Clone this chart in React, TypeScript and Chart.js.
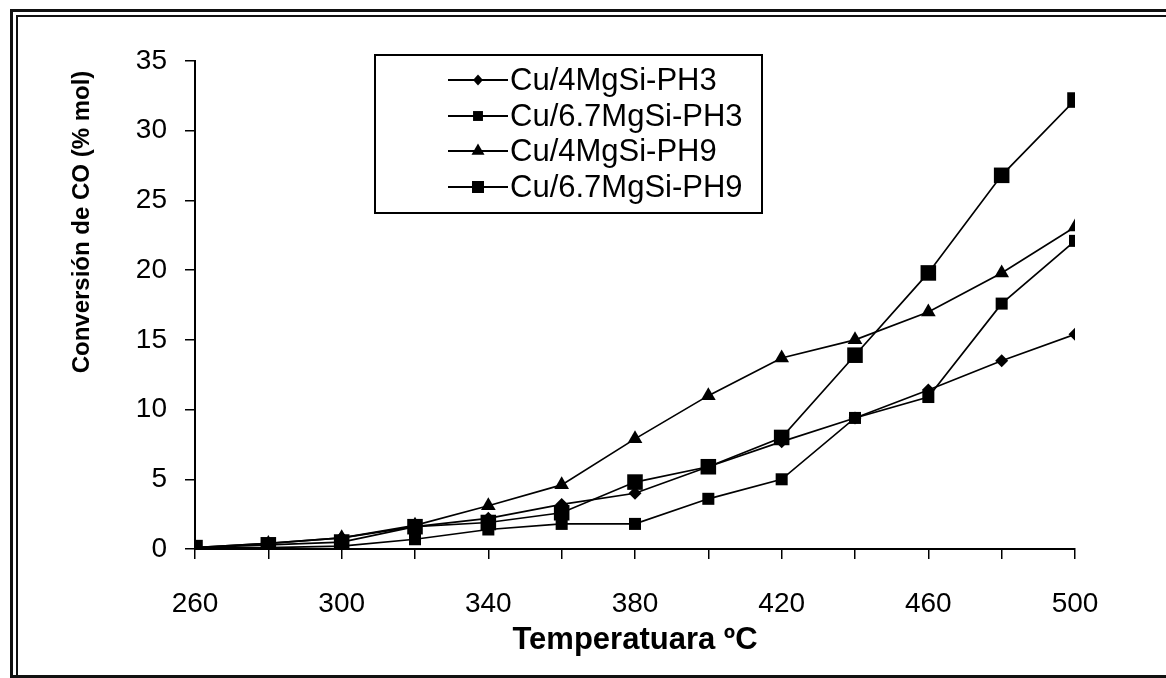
import React, { useEffect, useRef } from "react";
import { Chart, registerables } from "chart.js";

Chart.register(...registerables);

// ---- data ----
const temperatures = [260, 280, 300, 320, 340, 360, 380, 400, 420, 440, 460, 480, 500];
const cu4PH3 = [0.1, 0.4, 0.8, 1.6, 2.2, 3.2, 4.0, 5.9, 7.7, 9.4, 11.4, 13.5, 15.4];
const cu67PH3 = [0.1, 0.1, 0.2, 0.7, 1.4, 1.8, 1.8, 3.6, 5.0, 9.4, 10.9, 17.6, 22.1];
const cu4PH9 = [0.1, 0.4, 0.8, 1.7, 3.1, 4.6, 7.9, 11.0, 13.7, 15.0, 17.0, 19.8, 23.1];
const cu67PH9 = [0.1, 0.3, 0.5, 1.6, 1.9, 2.6, 4.8, 5.9, 8.0, 13.9, 19.8, 26.8, 32.2];
const seriesNames = ["Cu/4MgSi-PH3", "Cu/6.7MgSi-PH3", "Cu/4MgSi-PH9", "Cu/6.7MgSi-PH9"];
const xTitle = "Temperatuara ºC";
const yTitle = "Conversión de CO (% mol)";
const xMin = 260;
const xMax = 500;
const xStep = 20;
const xLabelStep = 40;
const yMin = 0;
const yMax = 35;
const yStep = 5;

const FONT = '"Liberation Sans", Arial, Helvetica, sans-serif';

type Marker = "rectRot" | "rect" | "triangle";
const markerStyles: Marker[] = ["rectRot", "rect", "triangle", "rect"];
const markerRadius = [6.5, 8.5, 8.5, 11];
const legendMarkerRadius = [5.5, 7, 7.5, 8.5];

function drawMarker(ctx: CanvasRenderingContext2D, style: Marker, x: number, y: number, r: number) {
  ctx.beginPath();
  if (style === "rectRot") {
    ctx.moveTo(x, y - r);
    ctx.lineTo(x + r * 0.9, y);
    ctx.lineTo(x, y + r);
    ctx.lineTo(x - r * 0.9, y);
    ctx.closePath();
  } else if (style === "rect") {
    const s = r * Math.SQRT1_2;
    ctx.rect(x - s, y - s, 2 * s, 2 * s);
  } else {
    ctx.moveTo(x, y - r);
    ctx.lineTo(x + r * 0.866, y + r / 2);
    ctx.lineTo(x - r * 0.866, y + r / 2);
    ctx.closePath();
  }
  ctx.fill();
}

const boxedLegend = {
  id: "boxedLegend",
  afterDraw(chart: any) {
    const ctx: CanvasRenderingContext2D = chart.ctx;
    ctx.save();
    // legend frame
    ctx.strokeStyle = "#000";
    ctx.lineWidth = 2;
    ctx.strokeRect(375, 55, 387, 158);
    const rows = [80, 116, 151, 187];
    ctx.font = `31px ${FONT}`;
    ctx.textBaseline = "middle";
    ctx.textAlign = "left";
    ctx.fillStyle = "#000";
    seriesNames.forEach((name, i) => {
      const y = rows[i];
      ctx.beginPath();
      ctx.lineWidth = 2;
      ctx.moveTo(448, y);
      ctx.lineTo(508, y);
      ctx.stroke();
      drawMarker(ctx, markerStyles[i], 478, y, legendMarkerRadius[i]);
      ctx.fillText(name, 510, y + 1);
    });
    // y axis title
    ctx.translate(82, 222);
    ctx.rotate(-Math.PI / 2);
    ctx.textAlign = "center";
    ctx.textBaseline = "middle";
    ctx.font = `bold 24px ${FONT}`;
    ctx.fillText(yTitle, 0, 0);
    ctx.restore();
  },
};

export default function App() {
  const ref = useRef<HTMLCanvasElement | null>(null);

  useEffect(() => {
    if (!ref.current) return;
    const series = [cu4PH3, cu67PH3, cu4PH9, cu67PH9];
    const chart = new Chart(ref.current, {
      type: "line",
      data: {
        datasets: series.map((vals, i) => ({
          label: seriesNames[i],
          data: temperatures.map((t, j) => ({ x: t, y: vals[j] })),
          borderColor: "#000",
          backgroundColor: "#000",
          borderWidth: 1.7,
          pointStyle: markerStyles[i],
          pointRadius: markerRadius[i],
          pointBackgroundColor: "#000",
          pointBorderColor: "#000",
          pointBorderWidth: 0,
          tension: 0,
          fill: false,
        })),
      },
      options: {
        animation: false,
        responsive: false,
        devicePixelRatio: 1,
        events: [],
        layout: { padding: { left: 0, top: 61, right: 91, bottom: 0 } },
        plugins: {
          legend: { display: false },
          tooltip: { enabled: false },
        },
        scales: {
          x: {
            type: "linear",
            min: xMin,
            max: xMax,
            afterFit: (scale: any) => {
              scale.height = 129;
            },
            border: { display: true, color: "#000", width: 2 },
            grid: {
              display: true,
              drawOnChartArea: false,
              drawTicks: true,
              tickLength: 10,
              color: "#000",
              lineWidth: 1.5,
            },
            ticks: {
              stepSize: xStep,
              autoSkip: false,
              maxRotation: 0,
              padding: 28,
              color: "#000",
              font: { family: FONT, size: 28 },
              callback: (v: any) => ((Number(v) - xMin) % xLabelStep === 0 ? String(v) : ""),
            },
            title: {
              display: true,
              text: xTitle,
              color: "#000",
              font: { family: FONT, size: 31, weight: "bold" },
              padding: { top: 0, bottom: 19 },
            },
          },
          y: {
            min: yMin,
            max: yMax,
            afterFit: (scale: any) => {
              scale.width = 195;
            },
            border: { display: true, color: "#000", width: 2 },
            grid: {
              display: true,
              drawOnChartArea: false,
              drawTicks: true,
              tickLength: 10,
              color: "#000",
              lineWidth: 1.5,
            },
            ticks: {
              stepSize: yStep,
              padding: 18,
              color: "#000",
              font: { family: FONT, size: 28 },
            },
          },
        },
      },
      plugins: [boxedLegend],
    });
    return () => chart.destroy();
  }, []);

  return (
    <div
      style={{
        position: "absolute",
        left: 0,
        top: 0,
        width: 1166,
        height: 678,
        overflow: "hidden",
        background: "#fff",
      }}
    >
      <canvas ref={ref} width={1166} height={678} style={{ display: "block" }} />
      <div
        style={{
          position: "absolute",
          left: 10,
          top: 9,
          width: 1200,
          height: 669,
          boxSizing: "border-box",
          border: "3px solid #111",
          pointerEvents: "none",
        }}
      />
      <div
        style={{
          position: "absolute",
          left: 16,
          top: 15,
          width: 1200,
          height: 700,
          boxSizing: "border-box",
          borderLeft: "2px solid #111",
          borderTop: "2px solid #111",
          pointerEvents: "none",
        }}
      />
    </div>
  );
}
